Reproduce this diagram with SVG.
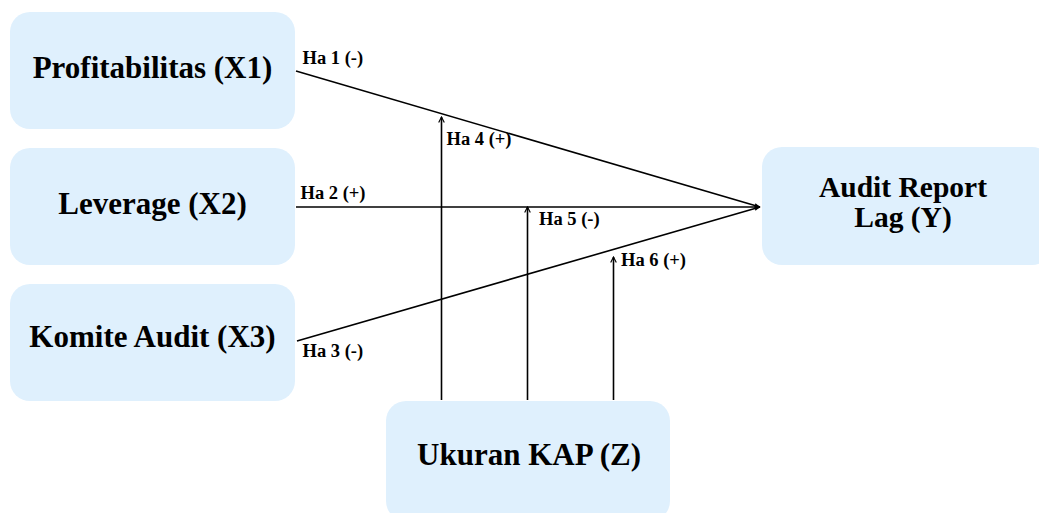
<svg xmlns="http://www.w3.org/2000/svg" width="1039" height="513" viewBox="0 0 1039 513">
<defs>
<style>
.box{fill:#dff0fd;}
.nt{font-family:"Liberation Serif",serif;font-weight:bold;font-size:31px;fill:#000;text-anchor:middle;}
.ny{font-size:29.5px;}
.lb{font-family:"Liberation Serif",serif;font-weight:bold;font-size:18.5px;fill:#000;}
.ln{stroke:#000;stroke-width:1.6;fill:none;}
</style>
<marker id="ah" viewBox="0 0 10 10" refX="9" refY="5" markerWidth="6" markerHeight="6" orient="auto" markerUnits="userSpaceOnUse">
<path d="M0,1 L10,5 L0,9 z" fill="#000"/>
</marker>
<marker id="au" viewBox="0 0 10 10" refX="9" refY="5" markerWidth="7" markerHeight="7" orient="auto" markerUnits="userSpaceOnUse">
<path d="M1,1 L9,5 L1,9" fill="none" stroke="#000" stroke-width="1.6"/>
</marker>
</defs>
<rect width="1039" height="513" fill="#fff"/>
<g id="x1"><rect class="box" x="10" y="12" width="285" height="117" rx="20"/><text class="nt" x="152.5" y="78">Profitabilitas (X1)</text></g>
<g id="x2"><rect class="box" x="10" y="148" width="285" height="117" rx="20"/><text class="nt" x="152.5" y="214">Leverage (X2)</text></g>
<g id="x3"><rect class="box" x="10" y="284" width="285" height="117" rx="20"/><text class="nt" x="152.5" y="347">Komite Audit (X3)</text></g>
<g id="y"><rect class="box" x="762" y="147" width="290" height="118" rx="20"/><text class="nt ny" x="903" y="197">Audit Report</text><text class="nt ny" x="903" y="227">Lag (Y)</text></g>
<g id="z"><rect class="box" x="386" y="401" width="284" height="120" rx="20"/><text class="nt" x="529" y="465">Ukuran KAP (Z)</text></g>
<g id="connectors">
<line class="ln" x1="296" y1="71" x2="760" y2="207" marker-end="url(#ah)"/>
<line class="ln" x1="296" y1="207" x2="760" y2="207" marker-end="url(#ah)"/>
<line class="ln" x1="297" y1="341" x2="760" y2="207" marker-end="url(#ah)"/>
<line class="ln" x1="441.5" y1="400" x2="441.5" y2="117" marker-end="url(#au)"/>
<line class="ln" x1="527.5" y1="400" x2="527.5" y2="207" marker-end="url(#au)"/>
<line class="ln" x1="613.5" y1="400" x2="613.5" y2="257" marker-end="url(#au)"/>
</g>
<g id="labels">
<text class="lb" x="302.5" y="64">Ha 1 (-)</text>
<text class="lb" x="446.5" y="145">Ha 4 (+)</text>
<text class="lb" x="300.5" y="199">Ha 2 (+)</text>
<text class="lb" x="539" y="225">Ha 5 (-)</text>
<text class="lb" x="621" y="266">Ha 6 (+)</text>
<text class="lb" x="302.5" y="357">Ha 3 (-)</text>
</g>
</svg>
